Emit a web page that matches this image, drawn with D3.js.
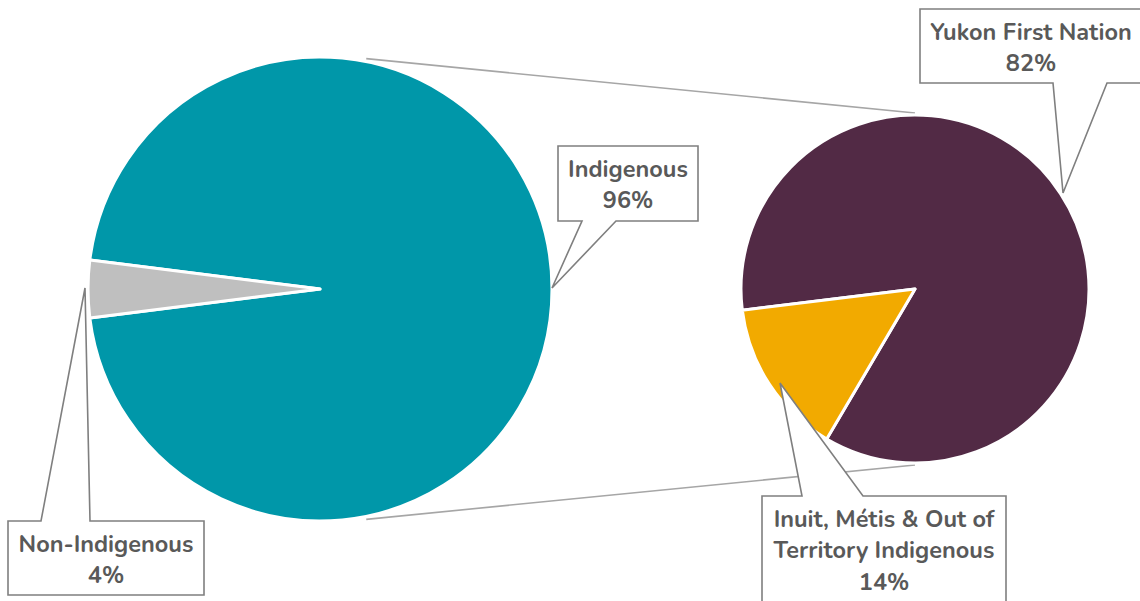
<!DOCTYPE html>
<html>
<head>
<meta charset="utf-8">
<script src="https://cdn.jsdelivr.net/npm/d3@7"></script>
<style>
  html, body { margin: 0; padding: 0; background: #fff; }
  svg { display: block; }
</style>
</head>
<body>
<div id="chart"></div>
<script>
// Main pie: identity of respondents
const mainCategories = ["Indigenous", "Non-Indigenous"];
const mainValues = [96, 4];
// Secondary pie: breakdown of the Indigenous share
const subCategories = ["Yukon First Nation", "Inuit, Métis & Out of Territory Indigenous"];
const subValues = [82, 14];

const mainColors = ["#0097A9", "#BFBFBF"];
const subColors = ["#522A45", "#F2AA00"];

const W = 1140, H = 601;
const svg = d3.select("#chart").append("svg")
  .attr("width", W).attr("height", H);

const main = { cx: 320, cy: 289, r: 232 };
const sub = { cx: 915, cy: 289, r: 174 };

const deg = Math.PI / 180;
const mainTotal = d3.sum(mainValues);
// Non-Indigenous slice centred on the left side of the main pie
const mainStart = 270 * deg - (mainValues[0] + mainValues[1] / 2) / mainTotal * 2 * Math.PI;

const mainPie = d3.pie().sort(null).value(d => d)
  .startAngle(mainStart).endAngle(mainStart + 2 * Math.PI);
const subPie = d3.pie().sort(null).value(d => d)
  .startAngle(263 * deg).endAngle(263 * deg + 2 * Math.PI);

// Connector lines between the two pies
const tAng = 11.5 * deg;
const conn = [
  [[main.cx + main.r * Math.sin(tAng), main.cy - main.r * Math.cos(tAng) - 3], [sub.cx, sub.cy - sub.r - 2]],
  [[main.cx + main.r * Math.sin(tAng), main.cy + main.r * Math.cos(tAng) + 3], [sub.cx, sub.cy + sub.r + 2]]
];
svg.append("g").selectAll("line").data(conn).join("line")
  .attr("x1", d => d[0][0]).attr("y1", d => d[0][1])
  .attr("x2", d => d[1][0]).attr("y2", d => d[1][1])
  .attr("stroke", "#A6A6A6").attr("stroke-width", 1.6);

const arcMain = d3.arc().innerRadius(0).outerRadius(main.r);
const arcSub = d3.arc().innerRadius(0).outerRadius(sub.r);

svg.append("g").attr("transform", `translate(${main.cx},${main.cy})`)
  .selectAll("path").data(mainPie(mainValues)).join("path")
  .attr("d", arcMain)
  .attr("fill", (d, i) => mainColors[i])
  .attr("stroke", "#fff").attr("stroke-width", 3).attr("stroke-linejoin", "round");

svg.append("g").attr("transform", `translate(${sub.cx},${sub.cy})`)
  .selectAll("path").data(subPie(subValues)).join("path")
  .attr("d", arcSub)
  .attr("fill", (d, i) => subColors[i])
  .attr("stroke", "#fff").attr("stroke-width", 3).attr("stroke-linejoin", "round");

// Callout labels: box, pointer on top or bottom edge, tip on the slice
const callouts = [
  { lines: [mainCategories[0], mainValues[0] + "%"], box: [558, 146, 698, 221], side: "bottom", base: [582, 616], tip: [552, 288] },
  { lines: [mainCategories[1], mainValues[1] + "%"], box: [8, 521, 204, 595], side: "top", base: [41, 90], tip: [85, 288] },
  { lines: [subCategories[0], subValues[0] + "%"], box: [920, 9, 1146, 83], side: "bottom", base: [1053, 1107], tip: [1063, 193] },
  { lines: ["Inuit, Métis & Out of", "Territory Indigenous", subValues[1] + "%"], box: [762, 496, 1006, 615], side: "top", base: [802, 863], tip: [780, 383] }
];

function calloutPath(c) {
  const [x0, y0, x1, y1] = c.box;
  const [b0, b1] = c.base;
  const [tx, ty] = c.tip;
  if (c.side === "top") {
    return `M${x0},${y0}L${b0},${y0}L${tx},${ty}L${b1},${y0}L${x1},${y0}L${x1},${y1}L${x0},${y1}Z`;
  }
  return `M${x0},${y0}L${x1},${y0}L${x1},${y1}L${b1},${y1}L${tx},${ty}L${b0},${y1}L${x0},${y1}Z`;
}

const lab = svg.append("g").selectAll("g").data(callouts).join("g");
lab.append("path")
  .attr("d", calloutPath)
  .attr("fill", "#fff")
  .attr("stroke", "#7F7F7F").attr("stroke-width", 1.6).attr("stroke-linejoin", "miter");

lab.each(function (c) {
  const g = d3.select(this);
  const cx = c.box[2] > W ? 1031 : (c.box[0] + c.box[2]) / 2;
  const lineH = 31.5;
  c.lines.forEach((t, i) => {
    g.append("text")
      .attr("x", cx)
      .attr("y", c.box[1] + 30.5 + i * lineH)
      .attr("text-anchor", "middle")
      .attr("font-family", "Nunito, 'Open Sans', Lato, sans-serif")
      .attr("font-weight", 700)
      .attr("font-size", 23.5)
      .attr("fill", "#595959")
      .text(t);
  });
});
</script>
</body>
</html>
